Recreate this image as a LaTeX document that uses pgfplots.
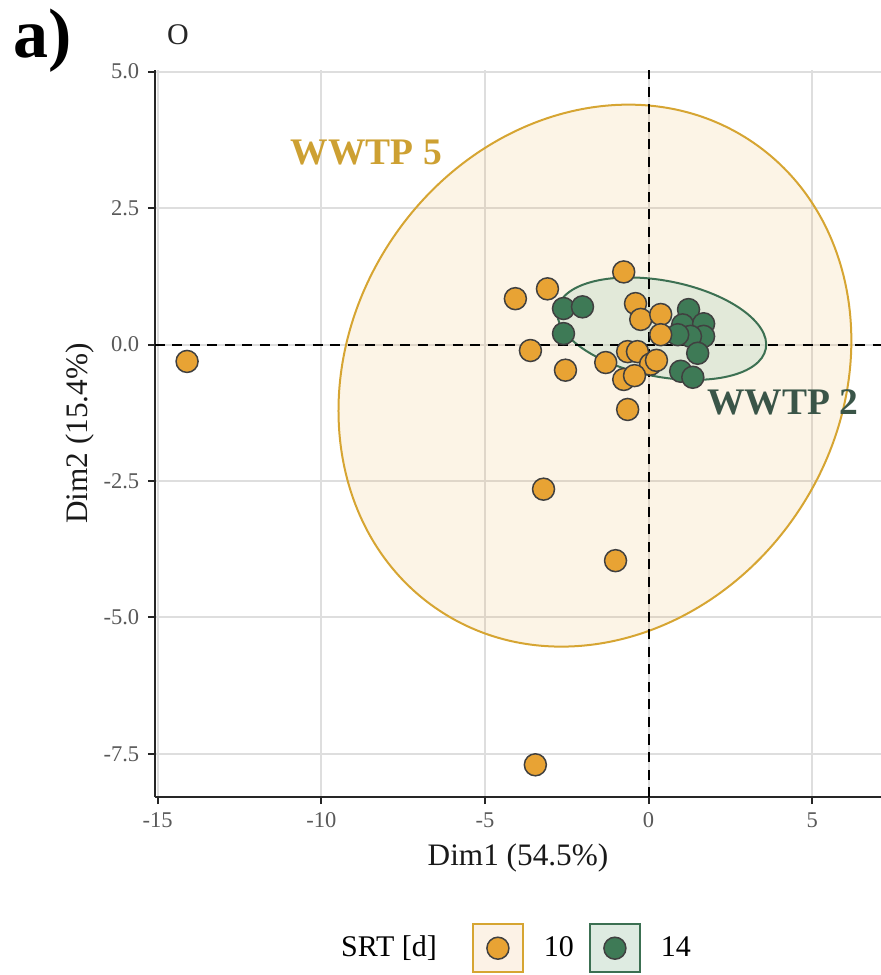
\documentclass[border=0pt]{standalone}
\usepackage{pgfplots}
\pgfplotsset{compat=1.18}
\usepackage{pgfplotstable}
\usepackage{fontspec}
\setmainfont{Liberation Serif}
\definecolor{ptorange}{RGB}{232,163,52}
\definecolor{ptgreen}{RGB}{62,122,86}
\definecolor{ell5}{RGB}{214,165,50}
\definecolor{ell5fill}{RGB}{252,242,230}
\definecolor{ell2}{RGB}{60,112,82}
\definecolor{ell2fill}{RGB}{200,222,205}
\definecolor{txt5}{RGB}{205,160,50}
\definecolor{txt2}{RGB}{58,85,72}

\pgfplotsset{
  legten/.style={legend image code/.code={
    \draw[draw=ell5, fill=ell5fill, line width=0.8pt] (-10pt,-9.6pt) rectangle (10pt,9.6pt);
    \draw[##1] plot coordinates {(0pt,0pt)};}},
  legfourteen/.style={legend image code/.code={
    \draw[draw=ell2, fill=ell2fill!60, line width=0.8pt] (-10pt,-9.6pt) rectangle (10pt,9.6pt);
    \draw[##1] plot coordinates {(0pt,0pt)};}},
}

\pgfplotstableread{
x y
-14.10 -0.31
-4.07 0.84
-3.09 1.02
-3.61 -0.11
-2.54 -0.47
-1.31 -0.33
-0.76 1.33
-0.40 0.75
-0.24 0.46
0.37 0.55
0.37 0.18
-0.64 -0.13
-0.34 -0.13
0.06 -0.36
0.24 -0.29
-0.76 -0.64
-0.43 -0.57
-0.64 -1.19
-3.21 -2.65
-1.01 -3.96
-3.46 -7.70
}\srtten

\pgfplotstableread{
x y
-2.60 0.66
-2.02 0.69
-2.60 0.20
1.22 0.64
1.04 0.36
1.68 0.38
1.68 0.15
1.28 0.15
0.89 0.18
1.50 -0.16
0.98 -0.49
1.35 -0.60
}\srtfourteen

\begin{document}
\begin{tikzpicture}
\useasboundingbox (-62pt,-71.2pt) rectangle (290.4pt,318.8pt);
\begin{axis}[
  at={(0pt,0pt)}, anchor=south west, scale only axis,
  width=290.4pt, height=290.8pt,
  xmin=-15.08, xmax=7.1, ymin=-8.29, ymax=5.03,
  axis lines=left, axis line style={-, line width=0.8pt, black!85},
  xtick={-15,-10,-5,0,5}, xticklabels={-15,-10,-5,0,5},
  ytick={-7.5,-5,-2.5,0,2.5,5}, yticklabels={-7.5,-5.0,-2.5,0.0,2.5,5.0},
  tick align=outside, major tick length=2.8pt,
  tick style={line width=0.8pt, black!85},
  grid=major, grid style={line width=0.8pt, black!13},
  ticklabel style={font=\fontsize{9}{10}\selectfont, text=black!65},
  xlabel={Dim1 (54.5\%)}, ylabel={Dim2 (15.4\%)},
  label style={font=\fontsize{12.5}{14}\selectfont, text=black!90},
  xlabel style={at={(axis description cs:0.5,-0.0839)}, anchor=center},
  ylabel style={at={(axis description cs:-0.1033,0.5)}, anchor=center},
  legend columns=-1,
  legend style={draw=none, fill=none, at={(axis description cs:0.487,-0.208)}, anchor=center,
    font=\fontsize{12}{14}\selectfont, column sep=6pt,
    /tikz/every even column/.append style={column sep=4pt}},
]
\addlegendimage{empty legend}
\addlegendentry{SRT [d]\rule{8pt}{0pt}}

\draw[draw=ell5, line width=0.8pt, fill=ptorange, fill opacity=0.12, rotate around={56.5:(axis cs:-1.64,-0.57)}]
  (axis cs:-1.64,-0.57) ellipse [x radius=112.7pt, y radius=97.8pt];
\draw[draw=ell2, line width=0.8pt, fill=ell2fill, fill opacity=0.5, rotate around={-10.9:(axis cs:0.40,0.29)}]
  (axis cs:0.40,0.29) ellipse [x radius=42.4pt, y radius=19.2pt];

\addplot[only marks, mark=*, mark size=4.4pt,
  mark options={fill=ptgreen, draw=black!75, line width=0.6pt}, forget plot] table {\srtfourteen};

\addplot[only marks, mark=*, mark size=4.4pt,
  mark options={fill=ptorange, draw=black!75, line width=0.6pt}, legten] table {\srtten};
\addlegendentry{10}

\addlegendimage{only marks, mark=*, mark size=4.4pt,
  mark options={fill=ptgreen, draw=black!75, line width=0.6pt}, legfourteen}
\addlegendentry{14}

\addplot[black, dash pattern=on 4pt off 3pt, line width=0.8pt, forget plot] coordinates {(-15.08,0) (7.1,0)};
\addplot[black, dash pattern=on 4pt off 3pt, line width=0.8pt, forget plot] coordinates {(0,-8.29) (0,5.03)};

\node[font=\fontsize{15}{17}\selectfont\bfseries, text=txt5] at (axis cs:-8.62,3.52) {WWTP 5};
\node[font=\fontsize{15}{17}\selectfont\bfseries, text=txt2] at (axis cs:4.10,-1.06) {WWTP 2};
\end{axis}
\node[font=\fontsize{28}{30}\selectfont\bfseries] at (-44.8pt,302.4pt) {a)};
\node[font=\fontsize{12}{14}\selectfont, text=black!85] at (9.2pt,304.8pt) {O};
\end{tikzpicture}
\end{document}
